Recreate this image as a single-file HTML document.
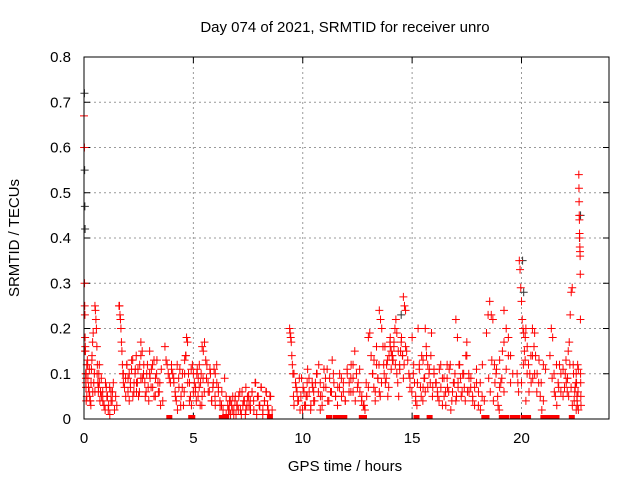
<!DOCTYPE html>
<html><head><meta charset="utf-8"><style>
body{margin:0;background:#fff;}
svg{display:block;font-family:"Liberation Sans",sans-serif;}
</style></head><body>
<svg id="chart" width="640" height="480" viewBox="0 0 640 480">
<rect width="640" height="480" fill="#fff"/>
<text x="345" y="32" font-size="15" text-anchor="middle">Day 074 of 2021, SRMTID for receiver unro</text>
<text transform="translate(19,238) rotate(-90)" font-size="15" text-anchor="middle">SRMTID / TECUs</text>
<text x="345" y="471" font-size="15" text-anchor="middle">GPS time / hours</text>
<g id="grid"></g><g id="ticks"></g><g id="marks"></g>
<rect x="84" y="57" width="525" height="362" fill="none" stroke="#000" stroke-width="1"/>
</svg>
<script>
const xTicks=[0,5,10,15,20];
const yTicks=[0,0.1,0.2,0.3,0.4,0.5,0.6,0.7,0.8];
const yTickLabels=["0","0.1","0.2","0.3","0.4","0.5","0.6","0.7","0.8"];
const groupStart=[0.0,0.1,0.5,0.7,1.6,1.8,2.6,3.7,4.0,4.6,5.0,5.4,6.0,6.5,7.4,9.4,9.6,10.5,11.5,12.3,13.0,13.5,14.0,14.6,15.0,15.6,16.0,17.0,17.5,18.4,19.2,19.8,20.2,20.5,21.3,22.0,22.5,22.62];
const groupEnd=  [0.1,0.5,0.7,1.5,1.8,2.6,3.5,4.0,4.6,5.0,5.4,6.0,6.5,7.4,8.6,9.6,10.5,11.5,12.3,13.0,13.5,14.0,14.6,14.9,15.6,16.0,17.0,17.5,18.3,19.2,19.6,20.2,20.5,21.0,21.8,22.5,22.6,22.72];
const groupValues=[
[0.67,0.6,0.6,0.3,0.25,0.23,0.18,0.16,0.15,0.1,0.08,0.07,0.04],
[0.1,0.12,0.13,0.09,0.07,0.06,0.05,0.04,0.03,0.11,0.14,0.17,0.19,0.08,0.1,0.06],
[0.25,0.24,0.22,0.2,0.16,0.12,0.08,0.06,0.1,0.12],
[0.08,0.06,0.05,0.04,0.03,0.02,0.07,0.05,0.03,0.01,0.06,0.04,0.08,0.02,0.05,0.03],
[0.25,0.25,0.23,0.22,0.2,0.17,0.15,0.12,0.1,0.08],
[0.1,0.07,0.05,0.12,0.09,0.04,0.08,0.11,0.13,0.06,0.1,0.14,0.08,0.05,0.12,0.09],
[0.17,0.15,0.1,0.08,0.06,0.12,0.04,0.09,0.11,0.07,0.13,0.05,0.1,0.08,0.06,0.03],
[0.16,0.13,0.12,0.1,0.09,0.08,0.11],
[0.12,0.1,0.08,0.06,0.04,0.02,0.09,0.11,0.05,0.07,0.03,0.1],
[0.13,0.14,0.18,0.17,0.1,0.08,0.05,0.03,0.12,0.06],
[0.1,0.08,0.06,0.04,0.11,0.09,0.07,0.03,0.1,0.05],
[0.16,0.15,0.17,0.13,0.12,0.08,0.06,0.1,0.04,0.07,0.11,0.03],
[0.1,0.08,0.06,0.04,0.03,0.02,0.09,0.05],
[0.01,0.03,0.02,0.04,0.02,0.01,0.05,0.03,0.02,0.06,0.01,0.03,0.04,0.02],
[0.07,0.05,0.03,0.02,0.06,0.04,0.08,0.01,0.05,0.03,0.07,0.02,0.04,0.06,0.03,0.01,0.05,0.02],
[0.2,0.19,0.18,0.17,0.14,0.12,0.1,0.05,0.03],
[0.1,0.08,0.06,0.04,0.02,0.09,0.07,0.03,0.05,0.11,0.06,0.02,0.08,0.04],
[0.06,0.08,0.1,0.12,0.05,0.03,0.07,0.09,0.11,0.04,0.06,0.13,0.08,0.05],
[0.05,0.03,0.07,0.09,0.06,0.04,0.1,0.08,0.12,0.06],
[0.12,0.15,0.1,0.08,0.06,0.04,0.03,0.02,0.05,0.07],
[0.18,0.19,0.14,0.1,0.07,0.04,0.12,0.09,0.06],
[0.24,0.22,0.2,0.16,0.1,0.08,0.12,0.05,0.14,0.18],
[0.16,0.15,0.14,0.13,0.17,0.2,0.22,0.1,0.08,0.05,0.12,0.15,0.18,0.14,0.09],
[0.27,0.25,0.24,0.15,0.13,0.1,0.07],
[0.18,0.1,0.08,0.05,0.03,0.2,0.12,0.07,0.14,0.04,0.09,0.06],
[0.2,0.14,0.12,0.1,0.08,0.19,0.07,0.11],
[0.1,0.08,0.06,0.04,0.12,0.09,0.05,0.03,0.07,0.11,0.02,0.06,0.08,0.04],
[0.22,0.18,0.12,0.09,0.06,0.1,0.04,0.14],
[0.17,0.1,0.07,0.05,0.03,0.08,0.06,0.02,0.12,0.04],
[0.19,0.23,0.26,0.23,0.22,0.12,0.1,0.05,0.02,0.08,0.15,0.06],
[0.24,0.2,0.18,0.14,0.1],
[0.1,0.08,0.06,0.35,0.33,0.29,0.26,0.22,0.2,0.19,0.15,0.13,0.04],
[0.2,0.16,0.12,0.1,0.08,0.14],
[0.2,0.16,0.14,0.1,0.08,0.05,0.02,0.12],
[0.14,0.2,0.18,0.1,0.05,0.03,0.08,0.12,0.06],
[0.1,0.08,0.06,0.15,0.17,0.23,0.28,0.29,0.12,0.04,0.07,0.02],
[0.1,0.08,0.05,0.03,0.12,0.06,0.02],
[0.54,0.51,0.48,0.45,0.44,0.41,0.4,0.38,0.37,0.36,0.32,0.22,0.1,0.08,0.05,0.03]
];
/* second pass of readings (extra satellites) */
const extraStart=[0.05,0.6,1.9,2.4,3.0,4.1,5.1,5.6,6.6,7.0,7.6,9.7,10.2,10.8,11.6,12.2,13.2,13.7,14.1,14.9,15.5,16.1,16.6,17.1,17.6,18.5,19.0,20.0,20.6,21.4,21.9,22.1];
const extraEnd=  [0.4,1.3,2.4,3.0,3.6,4.9,5.5,6.3,7.0,7.6,8.5,10.2,10.8,11.4,12.2,12.9,13.6,14.1,14.7,15.5,16.0,16.6,17.1,17.6,18.2,19.0,19.5,20.6,21.1,21.9,22.1,22.6];
const extraValues=[
[0.15,0.09,0.05,0.12,0.07,0.11,0.04,0.08,0.13,0.06],
[0.1,0.07,0.04,0.09,0.06,0.03,0.08,0.05,0.02,0.07,0.04,0.06],
[0.09,0.12,0.06,0.1,0.07,0.13,0.05,0.08,0.11,0.06],
[0.08,0.11,0.06,0.14,0.09,0.12,0.05,0.1,0.07,0.15],
[0.1,0.07,0.12,0.05,0.09,0.13,0.06,0.08,0.11,0.04],
[0.09,0.05,0.12,0.07,0.03,0.1,0.06,0.14,0.08,0.04,0.11],
[0.07,0.1,0.05,0.12,0.08,0.03,0.09,0.06],
[0.09,0.06,0.11,0.04,0.08,0.05,0.12,0.07,0.03,0.06],
[0.02,0.04,0.01,0.03,0.05,0.02,0.04,0.01,0.03],
[0.03,0.05,0.02,0.06,0.04,0.01,0.03,0.05,0.02],
[0.04,0.06,0.02,0.08,0.05,0.03,0.07,0.01,0.04,0.06,0.02,0.05],
[0.07,0.04,0.09,0.05,0.02,0.06,0.03,0.08],
[0.05,0.09,0.03,0.07,0.04,0.1,0.06,0.02],
[0.08,0.05,0.11,0.07,0.04,0.09,0.06,0.1],
[0.07,0.1,0.05,0.08,0.04,0.11,0.06,0.09],
[0.06,0.09,0.04,0.07,0.11,0.05,0.03,0.08],
[0.1,0.13,0.06,0.16,0.09,0.12,0.05,0.08],
[0.12,0.16,0.09,0.13,0.07,0.17,0.11,0.14],
[0.13,0.16,0.12,0.19,0.15,0.11,0.17,0.14,0.12,0.16],
[0.09,0.06,0.12,0.04,0.08,0.11,0.05,0.07],
[0.13,0.09,0.16,0.07,0.11,0.14,0.05,0.1],
[0.08,0.05,0.11,0.07,0.03,0.09,0.06,0.12],
[0.09,0.06,0.12,0.04,0.08,0.1,0.05,0.07],
[0.08,0.12,0.05,0.1,0.07,0.14,0.06,0.09],
[0.06,0.09,0.04,0.07,0.11,0.03,0.08,0.05],
[0.09,0.06,0.13,0.04,0.08,0.11,0.03,0.07],
[0.13,0.09,0.17,0.11,0.14,0.08],
[0.08,0.12,0.18,0.1,0.06,0.14,0.09,0.19],
[0.1,0.06,0.13,0.08,0.04,0.11],
[0.09,0.06,0.12,0.07,0.1,0.05],
[0.11,0.07,0.13,0.09],
[0.09,0.05,0.12,0.07,0.03,0.1,0.06,0.08,0.04,0.11]
];
const zeroHours=[3.9,4.9,4.95,6.3,6.5,8.5,11.2,11.5,11.7,11.9,12.7,12.8,15.2,15.8,18.3,18.4,19.1,19.3,19.6,19.8,20.1,20.3,21.0,21.2,21.4,21.6,22.3];
const blackHours=[0.02,0.03,0.04,0.05,14.5,20.05,20.1,22.65,22.7];
const blackValues=[0.72,0.55,0.47,0.42,0.23,0.35,0.28,0.4,0.45];

const X0=84,X1=609,Y0=419,Y1=57;
const xs=h=>X0+(h/24)*(X1-X0);
const ys=v=>Y0-(v/0.8)*(Y0-Y1);
const NS="http://www.w3.org/2000/svg";
function mk(tag,attrs,parent){const e=document.createElementNS(NS,tag);for(const k in attrs)e.setAttribute(k,attrs[k]);parent.appendChild(e);return e;}
const grid=document.getElementById('grid'),ticks=document.getElementById('ticks'),marks=document.getElementById('marks');
xTicks.forEach(t=>{const x=xs(t);
 if(t>0){const g=mk('line',{x1:x,x2:x,y1:Y0,y2:Y1,stroke:'#999','stroke-dasharray':'2,3'},grid);
 
 }
 mk('line',{x1:x,x2:x,y1:Y0,y2:Y0-6,stroke:'#000'},ticks);mk('line',{x1:x,x2:x,y1:Y1,y2:Y1+6,stroke:'#000'},ticks);
 const l=mk('text',{x:x,y:443,'font-size':15,'text-anchor':'middle'},ticks);l.textContent=t;
 
 });
yTicks.forEach((t,i)=>{const y=ys(t);
 if(t>0&&t<0.8){const g=mk('line',{x1:X0,x2:X1,y1:y,y2:y,stroke:'#999','stroke-dasharray':'2,3'},grid);
 
 }
 mk('line',{x1:X0,x2:X0+6,y1:y,y2:y,stroke:'#000'},ticks);mk('line',{x1:X1,x2:X1-6,y1:y,y2:y,stroke:'#000'},ticks);
 const l=mk('text',{x:71,y:y+5,'font-size':15,'text-anchor':'end'},ticks);l.textContent=yTickLabels[i];
 
 });
function plus(h,v,col){const x=xs(h),y=ys(v);
 const p=mk('path',{d:`M${x-4},${y}H${x+4}M${x},${y-4}V${y+4}`,stroke:col,'stroke-width':1,fill:'none'},marks);
 
 }
blackHours.forEach((h,i)=>plus(h,blackValues[i],'#333'));
function drawGroups(st,en,vs){vs.forEach((vals,g)=>{const a=st[g],b=en[g],n=vals.length;
 vals.forEach((v,i)=>plus(a+(b-a)*(n>1?i/(n-1):0),v,'#f00'));});}
drawGroups(groupStart,groupEnd,groupValues);
drawGroups(extraStart,extraEnd,extraValues);
zeroHours.forEach(h=>{const r=mk('rect',{x:xs(h)-3,y:Y0-4,width:6,height:4,fill:'#f00'},marks);
 
 });
</script>
</body></html>
